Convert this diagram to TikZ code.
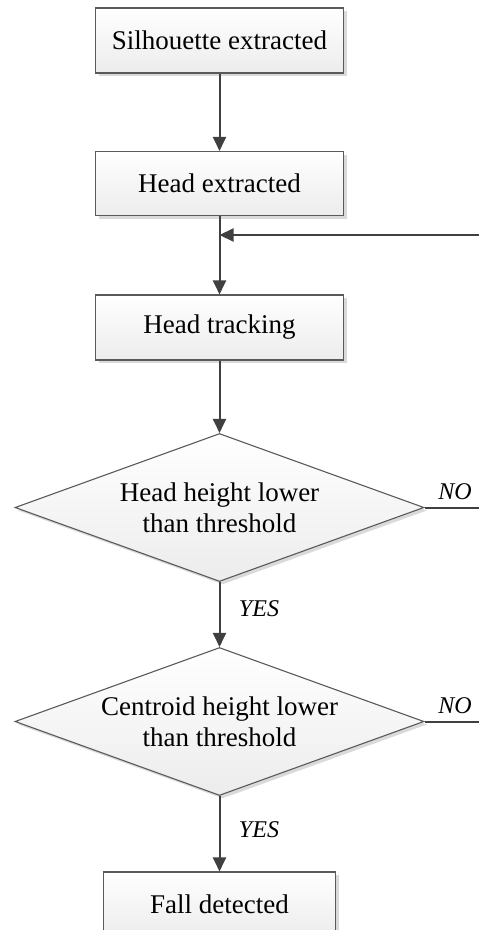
\documentclass[tikz,border=0pt]{standalone}
\usepackage{fontspec}
\setmainfont{Liberation Serif}
\usetikzlibrary{arrows.meta,shapes.geometric,shadows}
\definecolor{ln}{HTML}{404040}
\definecolor{bd}{HTML}{5A5A5A}
\definecolor{sh}{HTML}{DADADA}
\definecolor{bot}{HTML}{ECECEC}
\begin{document}
\begin{tikzpicture}[x=1pt,y=-1pt,
  procbox/.style={rectangle, draw=bd, line width=1.1pt, top color=white, bottom color=bot,
    minimum height=65pt, minimum width=248pt, inner sep=0pt,
    font=\fontsize{27}{31}\selectfont,
    drop shadow={shadow xshift=3pt, shadow yshift=-3pt, fill=sh, opacity=1}},
  decision/.style={diamond, draw=bd, line width=1.1pt, top color=white, bottom color=bot,
    aspect=2.76, minimum width=409pt, minimum height=148pt, inner sep=0pt, align=center,
    font=\fontsize{27}{31}\selectfont,
    drop shadow={shadow xshift=3pt, shadow yshift=-3pt, fill=sh, opacity=1}},
  arr/.style={draw=ln, line width=2pt, -{Triangle[length=14pt,width=13pt]}},
  plain/.style={draw=ln, line width=2pt},
  lbl/.style={font=\fontsize{24}{28}\selectfont\itshape, inner sep=0pt}]
\clip (0,0) rectangle (479,930);
\fill[white] (0,0) rectangle (479,930);

\node[procbox] (b1) at (219.5,40.5) {Silhouette extracted};
\node[procbox, minimum height=64pt] (b2) at (219.5,183.5) {Head extracted};
\node[procbox] (b3) at (219.5,327.5) {Head tracking};
\node[decision] (d1) at (219.5,507.5) {Head height lower\\than threshold};
\node[decision] (d2) at (219.5,721.5) {Centroid height lower\\than threshold};
\node[procbox, minimum width=232pt] (b4) at (219.5,904.5) {Fall detected};

\coordinate (fbR) at (479,235);
\coordinate (fbJ) at (219.5,235);
\coordinate (no1) at (479,507.5);
\coordinate (no2) at (479,721.5);

\draw[arr] (b1.south) -- (b2.north);
\draw[arr] (b2.south) -- (b3.north);
\draw[arr] (fbR) -- (fbJ);
\draw[arr] (b3.south) -- (d1.north);
\draw[arr] (d1.south) -- (d2.north);
\draw[arr] (d2.south) -- (b4.north);
\draw[plain] (d1.east) -- (no1);
\draw[plain] (d2.east) -- (no2);

\node[lbl] (yes1) at (259,609) {YES};
\node[lbl] (yes2) at (259,830) {YES};
\node[lbl] (nol1) at (455,492) {NO};
\node[lbl] (nol2) at (455,706) {NO};
\end{tikzpicture}
\end{document}
